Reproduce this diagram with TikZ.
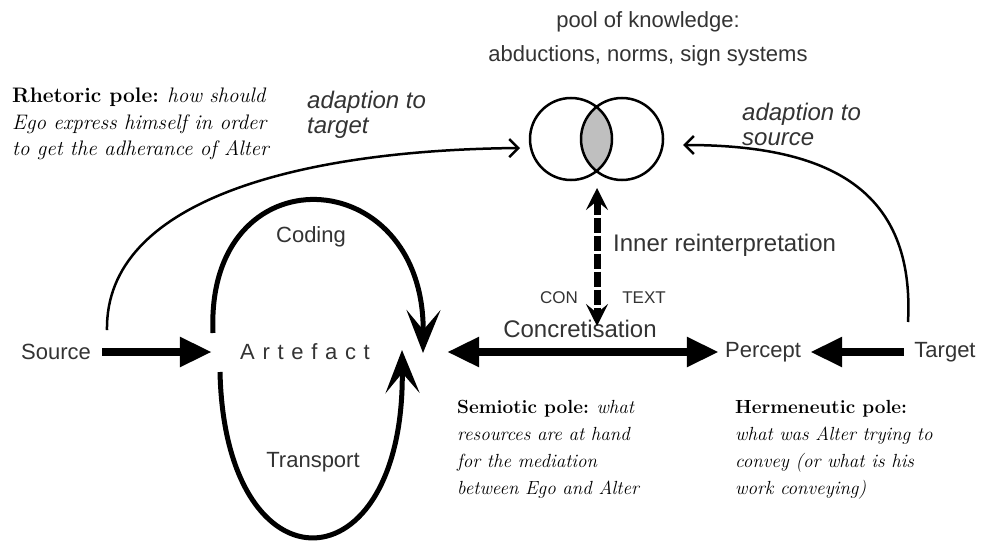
\documentclass[tikz,border=0pt]{standalone}
\usepackage{fontspec}
\setsansfont{Liberation Sans}
\usetikzlibrary{arrows.meta}

\begin{document}
\begin{tikzpicture}[x=1pt,y=-1pt,
    lbl/.style={font=\sffamily\fontsize{22}{26}\selectfont, text=black!80, inner sep=0pt},
    adapt/.style={font=\sffamily\itshape\fontsize{24}{25}\selectfont, text=black!80, align=left, anchor=west, inner sep=0pt},
    pole/.style={font=\fontsize{19}{27}\selectfont, align=left, anchor=north west, inner sep=0pt},
    fat/.style={line width=8pt, -{Triangle[length=32pt,width=28pt]}},
    fatboth/.style={line width=8pt, {Triangle[length=32pt,width=28pt]}-{Triangle[length=32pt,width=28pt]}},
    loopline/.style={line width=5pt, -{Stealth[length=43pt,width=34pt,inset=20pt]}},
    adaptarc/.style={line width=2.5pt, -{Straight Barb[length=9pt,width=18pt]}}]
    \useasboundingbox (0,0) rectangle (984,543);
    % pool of knowledge
    \node[lbl, align=center] (pool) at (648,39) {pool of knowledge:\\[8pt]abductions, norms, sign systems};
    \coordinate (lcirc) at (571,139);
    \coordinate (rcirc) at (622,139);
    \begin{scope}
        \clip (lcirc) circle (41pt);
        \fill[black!25] (rcirc) circle (41pt);
    \end{scope}
    \draw[line width=2.5pt] (lcirc) circle (41pt) (rcirc) circle (41pt);
    % main line
    \node[lbl] (source) at (56,352) {Source};
    \node[lbl, font=\sffamily\fontsize{22}{26}\selectfont\addfontfeature{LetterSpace=35}] (artefact) at (305,352) {Artefact};
    \node[lbl] (percept) at (763,352) {Percept};
    \node[lbl] (target) at (945,352) {Target};
    \coordinate (hub) at (440,352);
    \draw[fat, shorten <=11pt, shorten >=28pt] (source) -- (artefact);
    \draw[fatboth, shorten <=7pt, shorten >=6pt] (hub) -- (percept);
    \draw[fat, shorten <=10pt, shorten >=9pt] (target) -- (percept);
    \node[lbl, font=\sffamily\fontsize{24}{26}\selectfont] (concr) at (580,329) {Concretisation};
    % coding and transport loops
    \coordinate (codestart) at (213,333);
    \coordinate (codeend) at (423,353);
    \coordinate (transstart) at (220,372);
    \coordinate (transend) at (402,350);
    \draw[loopline] (codestart) .. controls (205,150) and (425,160) .. (codeend);
    \draw[loopline] (transstart) .. controls (225,597) and (405,590) .. (transend);
    \node[lbl] (coding) at (311,237) {Coding};
    \node[lbl] (transport) at (313,462) {Transport};
    % inner reinterpretation
    \coordinate (lens) at (597,188);
    \coordinate (ctxt) at (597,326);
    \draw[line width=7pt, dash pattern=on 15pt off 3pt,
        {Stealth[length=22pt,width=22pt,inset=9pt]}-{Stealth[length=22pt,width=22pt,inset=9pt]}] (lens) -- (ctxt);
    \node[lbl, anchor=west, font=\sffamily\fontsize{24}{26}\selectfont] (inner) at (613,245) {Inner reinterpretation};
    \node[lbl, font=\sffamily\fontsize{17}{20}\selectfont] (con) at (559,298) {CON};
    \node[lbl, font=\sffamily\fontsize{17}{20}\selectfont] (text) at (644,298) {TEXT};
    % adaption arcs
    \coordinate (srctop) at (107,330);
    \coordinate (poolwest) at (520,148);
    \coordinate (tgttop) at (908,322);
    \coordinate (pooleast) at (683,145);
    \draw[adaptarc] (srctop) .. controls (105,200) and (300,150) .. (poolwest);
    \draw[adaptarc] (tgttop) .. controls (915,190) and (830,145) .. (pooleast);
    \node[adapt] (adtarget) at (307,115) {adaption to\\target};
    \node[adapt] (adsource) at (742,124) {adaption to\\source};
    % poles
    \node[pole, font=\fontsize{21}{26.5}\selectfont] (rhetoric) at (12,88) {\textbf{Rhetoric pole:} \textit{how should}\\\textit{Ego express himself in order}\\\textit{to get the adherance of Alter}};
    \node[pole] (semiotic) at (457,400) {\textbf{Semiotic pole:} \textit{what}\\\textit{resources are at hand}\\\textit{for the mediation}\\\textit{between Ego and Alter}};
    \node[pole] (hermeneutic) at (735,400) {\textbf{Hermeneutic pole:}\\\textit{what was Alter trying to}\\\textit{convey (or what is his}\\\textit{work conveying)}};
\end{tikzpicture}
\end{document}
